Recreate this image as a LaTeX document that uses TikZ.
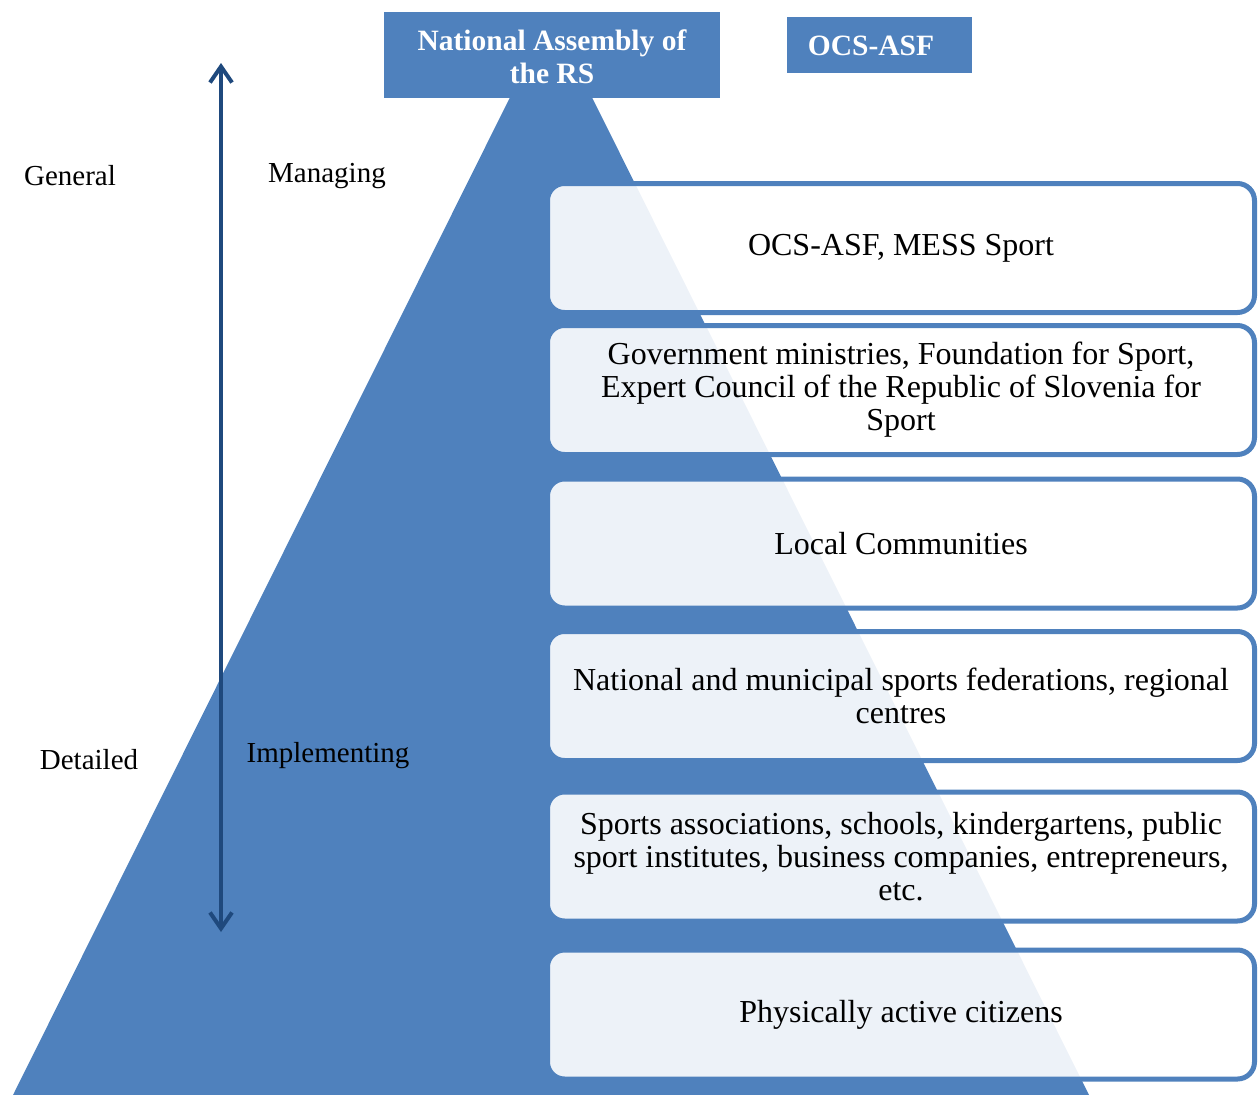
\documentclass[tikz,border=0pt]{standalone}
\usepackage{fontspec}
\setmainfont{Liberation Serif}
\usetikzlibrary{arrows.meta}
\definecolor{pyrblue}{HTML}{4F81BD}
\definecolor{arrowblue}{HTML}{1F497D}
\begin{document}
\begin{tikzpicture}[x=1pt,y=-1pt,
  lvlbox/.style={draw=pyrblue, line width=5pt, fill=white, fill opacity=0.9, text opacity=1,
    rounded corners=17pt, minimum width=707pt, minimum height=129pt, inner sep=0pt,
    align=center, font=\fontsize{32}{33}\selectfont},
  topbox/.style={fill=pyrblue, text=white, inner sep=0pt, align=center,
    font=\fontsize{29.5}{33}\selectfont\bfseries},
  toplabel/.style={text=white, inner sep=0pt, align=center,
    font=\fontsize{29.5}{33}\selectfont\bfseries},
  sidelabel/.style={inner sep=0pt, font=\fontsize{29}{33}\selectfont},
  axisarrow/.style={draw=arrowblue, line width=4pt, {Straight Barb[length=16pt,width=22pt]}-{Straight Barb[length=16pt,width=22pt]}}
]
\useasboundingbox (0,0) rectangle (1259,1095);
\clip (0,0) rectangle (1259,1095);
% pyramid
\fill[pyrblue] (551,15) -- (1089,1095) -- (13,1095) -- cycle;
% top boxes
\node[fill=pyrblue, minimum width=336pt, minimum height=86pt, inner sep=0pt] (na) at (551.5,55) {};
\node[toplabel] (natext) at (552,57) {National Assembly of\\the RS};
\node[fill=pyrblue, minimum width=185pt, minimum height=56pt, inner sep=0pt] (ocs) at (879.5,45) {};
\node[toplabel] (ocstext) at (871,46) {OCS-ASF};
% level boxes
\node[lvlbox] (b1) at (901,248) {OCS-ASF, MESS Sport};
\node[lvlbox] (b2) at (901,390) {Government ministries, Foundation for Sport,\\Expert Council of the Republic of Slovenia for\\Sport};
\node[lvlbox] (b3) at (901,543.5) {Local Communities};
\node[lvlbox] (b4) at (901,696) {National and municipal sports federations, regional\\centres};
\node[lvlbox] (b5) at (901,856.5) {Sports associations, schools, kindergartens, public\\sport institutes, business companies, entrepreneurs,\\etc.};
\node[lvlbox] (b6) at (901,1014.5) {Physically active citizens};
% side labels
\node[sidelabel] (gen) at (70,176) {General};
\node[sidelabel] (man) at (327,176) {Managing};
\node[sidelabel] (det) at (89,760) {Detailed};
\node[sidelabel] (imp) at (328,756) {Implementing};
% arrow
\coordinate (atop) at (221,63);
\coordinate (abot) at (221,932);
\draw[axisarrow] (atop) -- (abot);
\end{tikzpicture}
\end{document}
